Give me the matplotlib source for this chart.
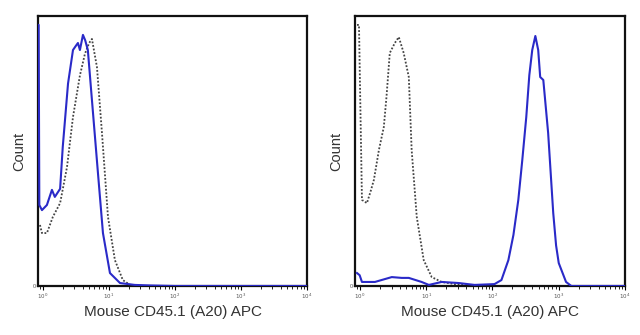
import numpy as np
import matplotlib
matplotlib.use("Agg")
import matplotlib.pyplot as plt
from matplotlib.ticker import LogLocator, NullFormatter, FixedLocator

plt.rcParams['font.family'] = ['Liberation Sans', 'DejaVu Sans']

# Histogram traces: log10 fluorescence vs. normalised count
left_stain_log = [-0.075, -0.065, -0.055, -0.015, 0.06, 0.136, 0.18, 0.26, 0.30, 0.38, 0.455,
                  0.50, 0.53, 0.56, 0.606, 0.64, 0.68, 0.742, 0.833, 0.909, 1.015, 1.167,
                  1.39, 1.62, 2.0, 3.0, 4.0]
left_stain_cnt = [0.967, 0.967, 0.30, 0.281, 0.30, 0.356, 0.33, 0.36, 0.515, 0.75, 0.874,
                  0.89, 0.90, 0.874, 0.93, 0.91, 0.874, 0.689, 0.419, 0.196, 0.048, 0.011,
                  0.004, 0.002, 0.0, 0.0, 0.0]

left_ctrl_log = [-0.045, -0.015, 0.06, 0.15, 0.26, 0.364, 0.455, 0.56, 0.636, 0.70, 0.742,
                 0.818, 0.894, 0.985, 1.09, 1.21, 1.32, 1.55, 2.0]
left_ctrl_cnt = [0.226, 0.196, 0.196, 0.256, 0.307, 0.44, 0.626, 0.78, 0.86, 0.90, 0.915,
                 0.811, 0.567, 0.256, 0.096, 0.022, 0.004, 0.0, 0.0]

right_ctrl_log = [-0.045, -0.015, 0.03, 0.105, 0.16, 0.21, 0.286, 0.36, 0.40, 0.45, 0.526,
                  0.586, 0.66, 0.737, 0.78, 0.857, 0.962, 1.083, 1.233, 1.43, 1.68]
right_ctrl_cnt = [0.967, 0.967, 0.319, 0.307, 0.35, 0.393, 0.504, 0.589, 0.70, 0.863, 0.90,
                  0.922, 0.863, 0.774, 0.504, 0.256, 0.096, 0.033, 0.015, 0.007, 0.0]

right_stain_log = [-0.045, -0.005, 0.03, 0.226, 0.48, 0.63, 0.737, 0.93, 1.04, 1.233, 1.49,
                   1.73, 2.03, 2.135, 2.24, 2.316, 2.39, 2.45, 2.51, 2.556, 2.60, 2.647,
                   2.69, 2.72, 2.767, 2.84, 2.917, 2.96, 3.0, 3.11, 3.19, 4.0]
right_stain_cnt = [0.048, 0.04, 0.015, 0.015, 0.033, 0.03, 0.03, 0.015, 0.004, 0.015, 0.011,
                   0.004, 0.007, 0.022, 0.096, 0.189, 0.319, 0.467, 0.626, 0.781, 0.874, 0.926,
                   0.874, 0.774, 0.763, 0.567, 0.27, 0.15, 0.085, 0.015, 0.0, 0.0]

decade_exps = [0, 1, 2, 3, 4]
x_label = "Mouse CD45.1 (A20) APC"
y_label = "Count"

BLUE = "#2a2ac8"
GREY = "#444444"

fig = plt.figure(figsize=(6.4, 3.35), dpi=100)
ax_l = fig.add_axes([38 / 640, 1 - 286 / 335, 269 / 640, 270 / 335])
ax_r = fig.add_axes([355 / 640, 1 - 286 / 335, 270 / 640, 270 / 335])

panels = [
    (ax_l, left_ctrl_log, left_ctrl_cnt, left_stain_log, left_stain_cnt),
    (ax_r, right_ctrl_log, right_ctrl_cnt, right_stain_log, right_stain_cnt),
]

for ax, c_log, c_cnt, s_log, s_cnt in panels:
    ax.plot(10 ** np.array(c_log), c_cnt, color=GREY, lw=1.3, ls=(0, (1.0, 1.0)), zorder=2)
    ax.plot(10 ** np.array(s_log), s_cnt, color=BLUE, lw=1.5, zorder=3)
    ax.set_xscale("log")
    ax.set_xlim(10 ** -0.075, 10 ** 4.0)
    ax.set_ylim(0, 1.0)
    for sp in ax.spines.values():
        sp.set_linewidth(1.6)
        sp.set_color("#111111")
    ax.xaxis.set_major_locator(FixedLocator([10.0 ** e for e in decade_exps]))
    ax.set_xticklabels([f"$10^{e}$" for e in decade_exps], fontsize=4, color="#555555")
    ax.xaxis.set_minor_locator(LogLocator(base=10, subs=np.arange(2, 10)))
    ax.xaxis.set_minor_formatter(NullFormatter())
    ax.tick_params(axis="x", which="major", length=3, width=0.8, pad=1)
    ax.tick_params(axis="x", which="minor", length=2, width=0.6)
    ax.set_yticks([0])
    ax.set_yticklabels(["0"], fontsize=4, color="#555555")
    ax.tick_params(axis="y", length=0, pad=1.5)
    ax.set_xlabel(x_label, fontsize=11, color="#333333", labelpad=3)
    ax.set_ylabel(y_label, fontsize=10.5, color="#333333", labelpad=5)

fig.savefig("out.png", dpi=100, facecolor="white")
